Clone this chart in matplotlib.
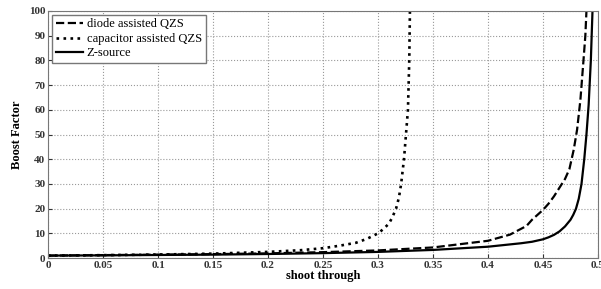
import numpy as np
import matplotlib.pyplot as plt

# values
D_diode = [0, 0.05, 0.1, 0.15, 0.2, 0.25, 0.3, 0.35, 0.4, 0.42, 0.435, 0.44, 0.45,
           0.455, 0.46, 0.465, 0.47, 0.474, 0.478, 0.481, 0.484, 0.4868, 0.4885, 0.4895]
B_diode = [1, 1.2, 1.4, 1.6, 1.9, 2.4, 3.1, 4.3, 7, 9.5, 13, 15.5, 19.5,
           22, 25, 28.5, 32, 36, 44, 52, 64, 80, 90, 100]

D_cap = [0, 0.05, 0.1, 0.15, 0.2, 0.23, 0.25, 0.265, 0.28, 0.29, 0.3, 0.305, 0.31,
         0.313, 0.3164, 0.319, 0.321, 0.3236, 0.3254, 0.3272, 0.3284, 0.329]
B_cap = [1, 1.18, 1.43, 1.8, 2.5, 3.2, 4, 5, 6.2, 7.8, 10, 11.8, 14,
         16.5, 20, 24.5, 30, 40, 50, 60, 80, 100]

D_z = [0, 0.05, 0.1, 0.15, 0.2, 0.25, 0.3, 0.35, 0.4, 0.43, 0.44, 0.45, 0.455,
       0.46, 0.465, 0.47, 0.475, 0.4775, 0.48, 0.4825, 0.485, 0.4875, 0.4895,
       0.4915, 0.4935, 0.495]
B_z = [1, 1.1, 1.25, 1.4, 1.65, 2, 2.5, 3.3, 4.6, 6, 6.6, 7.6, 8.4,
       9.4, 10.8, 12.8, 15.5, 17.5, 20, 24, 30, 40, 50,
       62, 80, 100]

xticks = np.arange(0, 0.501, 0.05)
xlabels = ["0", "0.05", "0.1", "0.15", "0.2", "0.25", "0.3", "0.35", "0.4", "0.45", "0.5"]
yticks = np.arange(0, 101, 10)

plt.rcParams['font.family'] = ['Liberation Serif', 'DejaVu Serif']

fig = plt.figure(figsize=(6.01, 2.89), dpi=100)
ax = fig.add_axes([0.08, 0.107, 0.915, 0.855])

ax.plot(D_diode, B_diode, 'k--', lw=1.6, label='diode assisted QZS')
ax.plot(D_cap, B_cap, 'k:', lw=1.9, label='capacitor assisted QZS')
ax.plot(D_z, B_z, 'k-', lw=1.6, label='Z-source')

ax.set_xlim(0, 0.5)
ax.set_ylim(0, 100)
ax.set_xticks(xticks)
ax.set_xticklabels(xlabels, fontsize=8, fontweight='bold')
ax.set_yticks(yticks)
ax.set_yticklabels([str(v) for v in yticks], fontsize=8, fontweight='bold')
ax.tick_params(direction='in', length=3, pad=2, colors='#333333')
ax.grid(True, linestyle=':', color='#999999', lw=0.8)
for s in ax.spines.values():
    s.set_color('#777777')

ax.set_xlabel('shoot through', fontsize=9, fontweight='bold', labelpad=0)
ax.set_ylabel('Boost Factor', fontsize=9, fontweight='bold', labelpad=4)

leg = ax.legend(loc='upper left', fontsize=9, handlelength=2.2, handletextpad=0.3,
                borderaxespad=0.3, fancybox=False, framealpha=1,
                labelspacing=0.2, borderpad=0.3)
leg.get_frame().set_edgecolor('#777777')

fig.savefig('out.png', dpi=100)
